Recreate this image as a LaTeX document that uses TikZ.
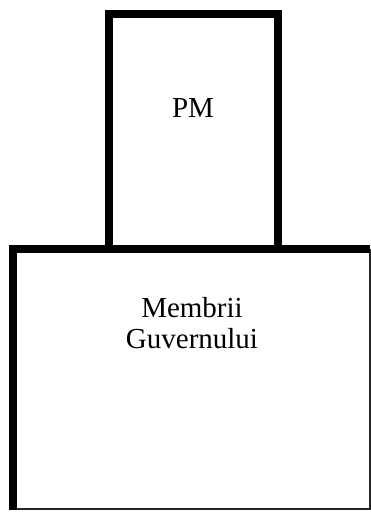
\documentclass[tikz,border=0pt]{standalone}
\usepackage{fontspec}
\setmainfont{Liberation Serif}
\usetikzlibrary{positioning}

\begin{document}
\begin{tikzpicture}[x=1pt, y=-1pt,
    heavy/.style={line width=8pt, line join=miter},
    light/.style={line width=2pt, draw=black!85},
    label/.style={font=\fontsize{29}{31}\selectfont, inner sep=0pt, align=center}]
    \useasboundingbox (0,0) rectangle (371,512);
    % corners
    \coordinate (ptl) at (109,14);
    \coordinate (ptr) at (277.5,14);
    \coordinate (gtl) at (12.5,249);
    \coordinate (gtr) at (370,249);
    \coordinate (gbl) at (12.5,509);
    \coordinate (gbr) at (370,509);
    % bottom box
    \draw[light] (gtr) -- (gbr) -- (gbl);
    \draw[heavy] (gbl |- 0,510) -- (gtl) -- (gtr);
    % top box
    \draw[heavy] (ptl |- gtl) -- (ptl) -- (ptr) -- (ptr |- gtl);
    % labels
    \node[label, anchor=base] (pm) at (193,117) {PM};
    \node[label, anchor=base] (membri) at (192,348) {Membrii\\Guvernului};
\end{tikzpicture}
\end{document}
